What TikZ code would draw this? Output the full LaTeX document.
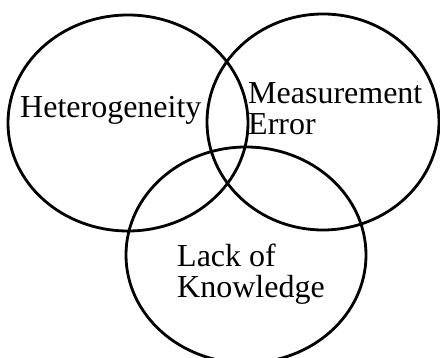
\documentclass[tikz,border=0pt]{standalone}
\usepackage{fontspec}
\setmainfont{Liberation Serif}

\begin{document}
\begin{tikzpicture}[x=1pt, y=1pt,
  ring/.style={black, line width=2.8pt},
  lbl/.style={font=\fontsize{32}{31}\selectfont, inner sep=0pt, align=left, anchor=base west}]
  \useasboundingbox (0,0) rectangle (440,358);
  \clip (0,0) rectangle (440,358);

  % three overlapping sets
  \draw[ring] (128,235) ellipse (120 and 108);
  \draw[ring] (323,236) ellipse (116 and 108);
  \draw[ring] (246,103) ellipse (120 and 108);

  % labels (base anchor sits on the last line)
  \node[lbl] (het) at (20,240) {Heterogeneity};
  \node[lbl] (meas) at (248,223) {Measurement\\Error};
  \node[lbl] (lack) at (177,60) {Lack of\\Knowledge};
\end{tikzpicture}
\end{document}
